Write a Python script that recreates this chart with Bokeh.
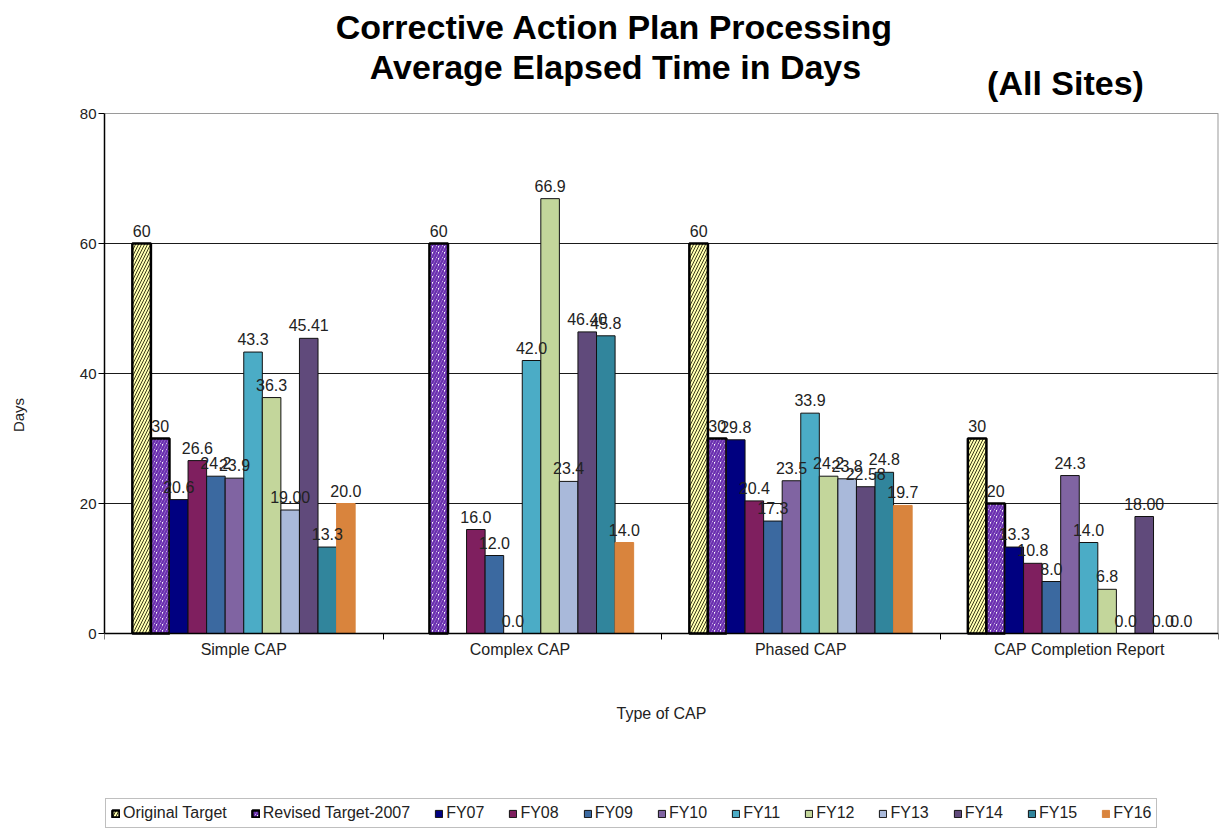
import numpy as np
from bokeh.plotting import figure
from bokeh.models import (Range1d, FixedTicker, ColumnDataSource, Legend, LegendItem, Label,
                          Grid)
from bokeh.core.properties import value
from bokeh.embed import file_html
from bokeh.resources import INLINE

# ---------------- data ----------------
categories = ["Simple CAP", "Complex  CAP", "Phased CAP", "CAP Completion Report"]
series_names = ["Original Target", "Revised Target-2007", "FY07", "FY08", "FY09", "FY10",
                "FY11", "FY12", "FY13", "FY14", "FY15", "FY16"]

original_target = [60, None, 60, 30]
revised_target = [30, 60, 30, 20]
fy07 = [20.6, None, 29.8, 13.3]
fy08 = [26.6, 16.0, 20.4, 10.8]
fy09 = [24.2, 12.0, 17.3, 8.0]
fy10 = [23.9, 0.0, 23.5, 24.3]
fy11 = [43.3, 42.0, 33.9, 14.0]
fy12 = [36.3, 66.9, 24.2, 6.8]
fy13 = [19.00, 23.4, 23.8, 0.0]
fy14 = [45.41, 46.40, 22.58, 18.00]
fy15 = [13.3, 45.8, 24.8, 0.0]
fy16 = [20.0, 14.0, 19.7, 0.0]

original_target_labels = ["60", "", "60", "30"]
revised_target_labels = ["30", "60", "30", "20"]
fy07_labels = ["20.6", "", "29.8", "13.3"]
fy08_labels = ["26.6", "16.0", "20.4", "10.8"]
fy09_labels = ["24.2", "12.0", "17.3", "8.0"]
fy10_labels = ["23.9", "0.0", "23.5", "24.3"]
fy11_labels = ["43.3", "42.0", "33.9", "14.0"]
fy12_labels = ["36.3", "66.9", "24.2", "6.8"]
fy13_labels = ["19.00", "23.4", "23.8", "0.0"]
fy14_labels = ["45.41", "46.40", "22.58", "18.00"]
fy15_labels = ["13.3", "45.8", "24.8", "0.0"]
fy16_labels = ["20.0", "14.0", "19.7", "0.0"]

y_ticks = [0, 20, 40, 60, 80]

series_values = [original_target, revised_target, fy07, fy08, fy09, fy10,
                 fy11, fy12, fy13, fy14, fy15, fy16]
series_labels = [original_target_labels, revised_target_labels, fy07_labels, fy08_labels,
                 fy09_labels, fy10_labels, fy11_labels, fy12_labels, fy13_labels,
                 fy14_labels, fy15_labels, fy16_labels]

# ---------------- styles / layout ----------------
colors = ["#FFFFB0", "#FFFFFF", "#000080", "#7F1F5F", "#3B69A0", "#8064A2",
          "#4BACC6", "#C3D69B", "#A9B9DA", "#604A7B", "#31859C", "#D9843D"]
FONT = "Liberation Sans"

W, H = 1220, 829
FRAME_LEFT, FRAME_RIGHT = 104, 1218
AXIS_Y, TOP80_Y = 633, 113                   # pixel rows of value 0 and value 80
px_per_unit = (AXIS_Y - TOP80_Y) / y_ticks[-1]
y_top = AXIS_Y / px_per_unit                 # frame spans the whole canvas height
y_bottom = -(H - AXIS_Y) / px_per_unit

p = figure(width=W, height=H, output_backend="svg", toolbar_location=None,
           x_range=Range1d(0, len(categories)), y_range=Range1d(y_bottom, y_top),
           min_border_left=FRAME_LEFT, min_border_right=W - FRAME_RIGHT,
           min_border_top=0, min_border_bottom=0)
p.background_fill_color = "white"
p.border_fill_color = "white"
p.outline_line_color = None

# x axis drawn at value 0: category names at centres, boundary ticks as minor ticks
centres = [k + 0.5 for k in range(len(categories))]
p.xaxis.fixed_location = 0
p.xaxis.ticker = FixedTicker(ticks=centres, minor_ticks=list(range(len(categories) + 1)))
p.xaxis.major_label_overrides = {c: name for c, name in zip(centres, categories)}
p.xaxis.major_tick_line_color = None
p.xaxis.minor_tick_line_color = "black"
p.xaxis.minor_tick_out = 6
p.xaxis.minor_tick_in = 0
p.xaxis.axis_line_color = "black"
p.xaxis.axis_line_width = 1.5
p.xaxis.major_label_text_font = FONT
p.xaxis.major_label_text_font_size = "16px"
p.xaxis.major_label_text_color = "#222222"
p.xaxis.major_label_standoff = 1
p.xaxis.axis_label = "Type of CAP"
p.xaxis.axis_label_text_font = FONT
p.xaxis.axis_label_text_font_size = "16px"
p.xaxis.axis_label_text_font_style = "normal"
p.xaxis.axis_label_text_color = "#222222"
p.xaxis.axis_label_standoff = 44

p.yaxis.ticker = FixedTicker(ticks=y_ticks)
p.yaxis.bounds = (y_ticks[0], y_ticks[-1])
p.yaxis.minor_tick_line_color = None
p.yaxis.major_tick_out = 6
p.yaxis.major_tick_in = 0
p.yaxis.major_tick_line_color = "black"
p.yaxis.axis_line_color = "black"
p.yaxis.axis_line_width = 1.5
p.yaxis.major_label_text_font = FONT
p.yaxis.major_label_text_font_size = "15px"
p.yaxis.major_label_text_color = "#222222"
p.yaxis.major_label_standoff = 2
p.yaxis.axis_label = "Days"
p.yaxis.axis_label_text_font = FONT
p.yaxis.axis_label_text_font_size = "15px"
p.yaxis.axis_label_text_font_style = "normal"
p.yaxis.axis_label_text_color = "#222222"
p.yaxis.axis_label_standoff = 50

p.xgrid.grid_line_color = None
p.ygrid.ticker = FixedTicker(ticks=y_ticks[1:-1])
p.ygrid.grid_line_color = "#1a1a1a"
p.ygrid.grid_line_width = 1
# light top border of the plot area at the top tick
p.add_layout(Grid(dimension=1, ticker=FixedTicker(ticks=[y_ticks[-1]]),
                  grid_line_color="#9a9a9a", grid_line_width=1))
# light right border of the plot area
p.segment(x0=[len(categories)], y0=[y_ticks[0]], x1=[len(categories)], y1=[y_ticks[-1]],
          line_color="#9a9a9a", line_width=2)

n_series = len(series_names)
bar_w = 1.0 / 15.0

renderers = []
text_sources = []
for i, (name, vals, labs) in enumerate(zip(series_names, series_values, series_labels)):
    keep = [k for k in range(len(categories)) if vals[k] is not None]
    xs = [centres[k] + (i - (n_series - 1) / 2.0) * bar_w for k in keep]
    src = ColumnDataSource(dict(x=xs, top=[vals[k] for k in keep],
                                label=[labs[k] for k in keep]))
    kw = dict(x="x", top="top", bottom=0, width=bar_w, source=src, fill_color=colors[i])
    if i == 0:
        kw.update(line_color="black", line_width=2.5, hatch_pattern="right_diagonal_line",
                  hatch_color="#3a3a1a", hatch_weight=1, hatch_scale=6)
    elif i == 1:
        kw.update(line_color="black", line_width=2.5, hatch_pattern="right_diagonal_line",
                  hatch_color="#6A2FB0", hatch_weight=2.5, hatch_scale=6)
    elif i == n_series - 1:
        kw.update(line_color=colors[i], line_width=1)
    else:
        kw.update(line_color="#111111", line_width=1)
    r = p.vbar(**kw)
    renderers.append(r)
    text_sources.append(src)

for src in text_sources:
    p.text(x="x", y="top", text="label", source=src, text_align="center",
           text_baseline="alphabetic", y_offset=-13, text_font=value(FONT),
           text_font_size="16px", text_color="#222222")

# legend inside the (full-height) frame, near the bottom edge
legend = Legend(items=[LegendItem(label=n, renderers=[r]) for n, r in zip(series_names, renderers)],
                orientation="horizontal", location=(1, 1), margin=0,
                label_text_font=FONT, label_text_font_size="16px", label_text_color="#222222",
                glyph_width=9, glyph_height=9, label_standoff=3, spacing=24,
                padding=5, label_height=18,
                border_line_color="#808080", border_line_width=1.5,
                background_fill_color="white", background_fill_alpha=1.0)
p.add_layout(legend)

# titles (screen units, relative to the frame's bottom-left corner)
for txt, sx, sy in [("Corrective Action Plan Processing", 510, H - 26),
                    ("Average Elapsed Time in Days", 511, H - 66),
                    ("(All Sites)", 961, H - 82)]:
    p.add_layout(Label(x=sx, y=sy, x_units="screen", y_units="screen",
                       text=txt, text_align="center", text_baseline="middle",
                       text_font=FONT, text_font_size="34px",
                       text_font_style="bold", text_color="black"))

open("out.html", "w").write(file_html(p, INLINE))
